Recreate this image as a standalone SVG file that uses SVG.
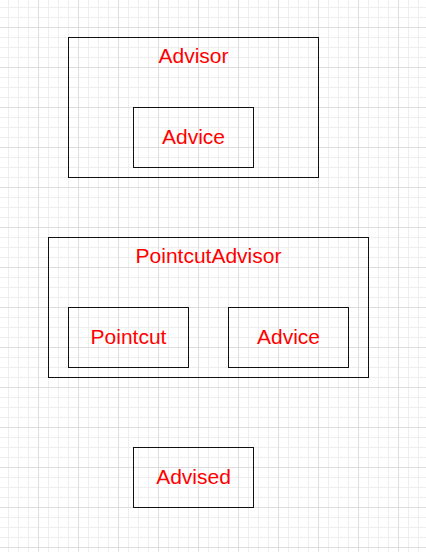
<svg xmlns="http://www.w3.org/2000/svg" width="426" height="552" viewBox="0 0 426 552">
<style>
.box{fill:none;stroke:#111111;stroke-width:1}
.lbl{font-family:"Liberation Sans",Arial,Helvetica,sans-serif;font-size:21px;fill:#ff0000;text-anchor:middle}
</style>
<defs>
<pattern id="grid" patternUnits="userSpaceOnUse" x="-2" y="-13" width="40" height="40">
<path d="M10.5 0V40M20.5 0V40M30.5 0V40M0 10.5H40M0 20.5H40M0 30.5H40" stroke="#eeeeee" stroke-width="1" fill="none"/>
<path d="M0.5 0V40M0 0.5H40" stroke="#dedede" stroke-width="1" fill="none"/>
</pattern>
</defs>
<rect x="0" y="0" width="426" height="552" fill="#ffffff"/>
<rect x="0" y="0" width="426" height="552" fill="url(#grid)"/>
<g id="connectors"></g>
<g id="advisor">
<rect class="box" x="68.5" y="37.5" width="250" height="140"/>
<text class="lbl" x="193.5" y="63">Advisor</text>
</g>
<g id="advisor-advice">
<rect class="box" x="133.5" y="107.5" width="120" height="60"/>
<text class="lbl" x="193.5" y="144">Advice</text>
</g>
<g id="pointcutadvisor">
<rect class="box" x="48.5" y="237.5" width="320" height="140"/>
<text class="lbl" x="208.5" y="263">PointcutAdvisor</text>
</g>
<g id="pointcut">
<rect class="box" x="68.5" y="307.5" width="120" height="60"/>
<text class="lbl" x="128.5" y="344">Pointcut</text>
</g>
<g id="pa-advice">
<rect class="box" x="228.5" y="307.5" width="120" height="60"/>
<text class="lbl" x="288.5" y="344">Advice</text>
</g>
<g id="advised">
<rect class="box" x="133.5" y="447.5" width="120" height="60"/>
<text class="lbl" x="193.5" y="484">Advised</text>
</g>
</svg>
